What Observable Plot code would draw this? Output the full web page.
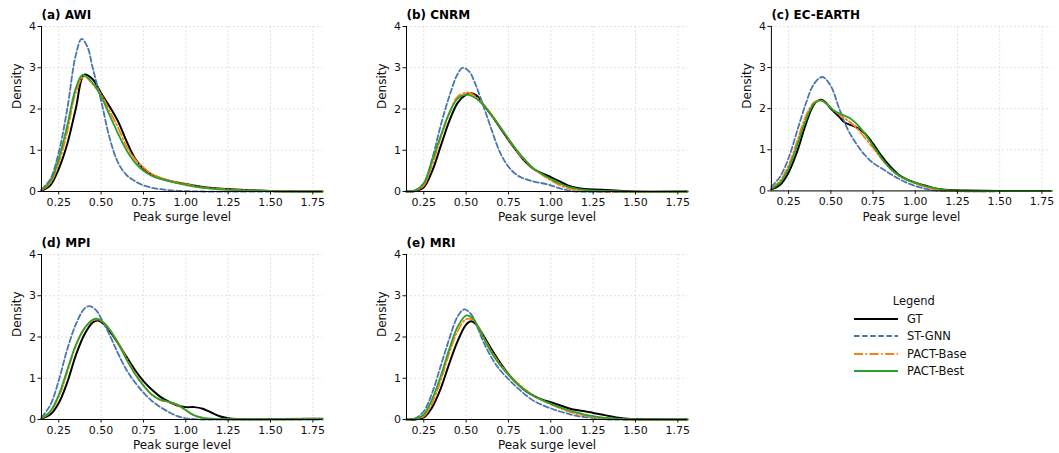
<!DOCTYPE html>
<html><head><meta charset="utf-8">
<script src="https://cdn.jsdelivr.net/npm/d3@7"></script>
<script src="https://cdn.jsdelivr.net/npm/@observablehq/plot@0.6"></script>
<style>
body{margin:0;background:#fff;font-family:"DejaVu Sans",sans-serif;}
#root{position:relative;width:1059px;height:453px;overflow:hidden;}
.panel{position:absolute;}
#legend{position:absolute;left:853px;top:292px;font-size:11.5px;color:#111;}
#legend .ttl{text-align:center;margin-left:8px;height:18px;line-height:18px;}
#legend .row{display:flex;align-items:center;height:17.5px;}
#legend .row span{margin-left:8px;}
</style></head><body><div id="root"></div>
<script>
const xDomain = [0.148, 1.807];
const yDomain = [0, 4];
const xTicks = [0.25, 0.5, 0.75, 1.0, 1.25, 1.5, 1.75];
const yTicks = [0, 1, 2, 3, 4];
const seriesNames = ["GT", "ST-GNN", "PACT-Base", "PACT-Best"];
const seriesColors = ["#000000", "#4a76ad", "#ff7f0e", "#2ca02c"];
const seriesDash = [null, "5.5,2.6", "9,2.5,1.6,2.5", null];
const panelTitles = ["(a) AWI", "(b) CNRM", "(c) EC-EARTH", "(d) MPI", "(e) MRI"];
const xLabel = "Peak surge level";
const yLabel = "Density";

// [x, density] pairs
const awiGT = [[0.148,0.02],[0.2,0.15],[0.25,0.55],[0.3,1.15],[0.35,2.0],[0.4,2.83],[0.45,2.72],[0.5,2.38],[0.55,2.06],[0.6,1.7],[0.65,1.22],[0.7,0.8],[0.75,0.56],[0.8,0.41],[0.9,0.26],[1.0,0.18],[1.1,0.11],[1.25,0.06],[1.4,0.03],[1.5,0.01],[1.807,0]];
const awiST = [[0.148,0.05],[0.2,0.3],[0.25,0.95],[0.3,2.0],[0.35,3.3],[0.385,3.7],[0.42,3.5],[0.45,3.0],[0.5,2.2],[0.55,1.3],[0.6,0.7],[0.65,0.4],[0.7,0.25],[0.75,0.15],[0.8,0.09],[0.9,0.03],[1.0,0.01],[1.1,0],[1.807,0]];
const awiBase = [[0.148,0.03],[0.2,0.2],[0.25,0.7],[0.3,1.45],[0.35,2.4],[0.4,2.8],[0.45,2.6],[0.5,2.35],[0.55,1.95],[0.6,1.55],[0.65,1.1],[0.7,0.78],[0.75,0.58],[0.8,0.42],[0.9,0.27],[1.0,0.18],[1.1,0.1],[1.25,0.05],[1.5,0.01],[1.807,0]];
const awiBest = [[0.148,0.04],[0.2,0.25],[0.25,0.8],[0.3,1.6],[0.35,2.5],[0.39,2.83],[0.45,2.63],[0.5,2.3],[0.55,1.85],[0.6,1.4],[0.65,1.0],[0.7,0.7],[0.75,0.5],[0.8,0.38],[0.9,0.25],[1.0,0.16],[1.1,0.09],[1.25,0.04],[1.5,0.01],[1.807,0]];

const cnrmGT = [[0.148,0],[0.2,0.01],[0.25,0.1],[0.3,0.5],[0.35,1.1],[0.4,1.7],[0.45,2.15],[0.5,2.35],[0.53,2.38],[0.56,2.33],[0.6,2.12],[0.65,1.85],[0.7,1.55],[0.75,1.25],[0.8,0.97],[0.85,0.72],[0.9,0.54],[0.95,0.44],[1.0,0.35],[1.05,0.25],[1.1,0.15],[1.15,0.09],[1.2,0.06],[1.3,0.045],[1.4,0.02],[1.5,0],[1.807,0]];
const cnrmST = [[0.148,0],[0.2,0.03],[0.25,0.2],[0.3,0.8],[0.35,1.6],[0.4,2.3],[0.45,2.85],[0.48,3.0],[0.52,2.9],[0.55,2.65],[0.6,2.1],[0.65,1.5],[0.7,0.95],[0.75,0.6],[0.8,0.4],[0.85,0.3],[0.9,0.24],[0.95,0.2],[1.0,0.15],[1.05,0.08],[1.1,0.03],[1.15,0],[1.807,0]];
const cnrmBase = [[0.148,0],[0.2,0.02],[0.25,0.15],[0.3,0.65],[0.35,1.3],[0.4,1.88],[0.45,2.3],[0.51,2.4],[0.55,2.32],[0.6,2.12],[0.65,1.87],[0.7,1.57],[0.75,1.27],[0.8,0.98],[0.85,0.74],[0.9,0.54],[0.95,0.4],[1.0,0.27],[1.05,0.16],[1.1,0.08],[1.15,0.04],[1.2,0.02],[1.3,0],[1.807,0]];
const cnrmBest = [[0.148,0],[0.2,0.03],[0.25,0.2],[0.3,0.75],[0.35,1.35],[0.4,1.9],[0.45,2.25],[0.5,2.35],[0.55,2.28],[0.6,2.1],[0.65,1.85],[0.7,1.57],[0.75,1.28],[0.8,1.0],[0.85,0.76],[0.9,0.55],[0.95,0.42],[1.0,0.3],[1.05,0.2],[1.1,0.12],[1.15,0.07],[1.2,0.04],[1.3,0.015],[1.4,0],[1.807,0]];

const ecGT = [[0.148,0.03],[0.2,0.15],[0.25,0.45],[0.3,0.95],[0.35,1.6],[0.4,2.1],[0.44,2.22],[0.47,2.15],[0.5,2.0],[0.55,1.8],[0.58,1.67],[0.62,1.6],[0.65,1.55],[0.7,1.4],[0.75,1.15],[0.8,0.85],[0.85,0.6],[0.9,0.4],[0.95,0.28],[1.0,0.2],[1.05,0.14],[1.1,0.08],[1.15,0.04],[1.2,0.02],[1.3,0.01],[1.5,0],[1.807,0]];
const ecST = [[0.148,0.1],[0.2,0.35],[0.25,0.8],[0.3,1.45],[0.35,2.1],[0.4,2.6],[0.45,2.77],[0.5,2.55],[0.55,2.0],[0.6,1.5],[0.65,1.15],[0.7,0.88],[0.75,0.68],[0.8,0.55],[0.85,0.42],[0.9,0.3],[0.95,0.2],[1.0,0.12],[1.05,0.06],[1.1,0.02],[1.15,0],[1.807,0]];
const ecBase = [[0.148,0.06],[0.2,0.25],[0.25,0.62],[0.3,1.2],[0.35,1.8],[0.4,2.15],[0.44,2.2],[0.48,2.1],[0.52,1.95],[0.57,1.8],[0.62,1.65],[0.66,1.5],[0.7,1.3],[0.75,1.05],[0.8,0.78],[0.85,0.55],[0.9,0.38],[0.95,0.27],[1.0,0.18],[1.05,0.11],[1.1,0.05],[1.15,0.02],[1.2,0],[1.807,0]];
const ecBest = [[0.148,0.05],[0.2,0.2],[0.25,0.55],[0.3,1.1],[0.35,1.7],[0.4,2.12],[0.44,2.2],[0.48,2.1],[0.52,1.95],[0.57,1.85],[0.62,1.75],[0.66,1.6],[0.7,1.4],[0.75,1.1],[0.8,0.8],[0.85,0.55],[0.9,0.38],[0.95,0.27],[1.0,0.2],[1.05,0.13],[1.1,0.08],[1.15,0.04],[1.2,0.02],[1.3,0],[1.807,0]];

const mpiGT = [[0.148,0.02],[0.2,0.12],[0.25,0.4],[0.3,0.9],[0.35,1.55],[0.4,2.05],[0.45,2.35],[0.48,2.4],[0.52,2.3],[0.55,2.15],[0.6,1.85],[0.65,1.52],[0.7,1.2],[0.75,0.93],[0.8,0.72],[0.85,0.55],[0.9,0.43],[0.95,0.34],[1.0,0.3],[1.05,0.3],[1.1,0.26],[1.15,0.17],[1.2,0.08],[1.25,0.03],[1.3,0.01],[1.5,0.01],[1.75,0.02],[1.807,0.02]];
const mpiST = [[0.148,0.05],[0.2,0.35],[0.25,0.95],[0.3,1.7],[0.35,2.3],[0.4,2.68],[0.43,2.75],[0.47,2.65],[0.5,2.45],[0.55,2.05],[0.6,1.6],[0.65,1.2],[0.7,0.9],[0.75,0.65],[0.8,0.45],[0.85,0.3],[0.9,0.18],[0.95,0.08],[1.0,0.03],[1.05,0.01],[1.1,0],[1.807,0]];
const mpiBase = [[0.148,0.03],[0.2,0.18],[0.25,0.55],[0.3,1.15],[0.35,1.78],[0.4,2.2],[0.45,2.4],[0.48,2.42],[0.52,2.33],[0.55,2.18],[0.6,1.87],[0.65,1.48],[0.7,1.12],[0.75,0.83],[0.8,0.6],[0.85,0.47],[0.9,0.42],[0.95,0.35],[1.0,0.22],[1.05,0.1],[1.1,0.04],[1.2,0.01],[1.807,0.01]];
const mpiBest = [[0.148,0.03],[0.2,0.2],[0.25,0.6],[0.3,1.2],[0.35,1.8],[0.4,2.2],[0.45,2.42],[0.48,2.44],[0.52,2.33],[0.55,2.18],[0.6,1.85],[0.65,1.45],[0.7,1.1],[0.75,0.82],[0.8,0.6],[0.85,0.48],[0.9,0.43],[0.95,0.36],[1.0,0.23],[1.05,0.1],[1.1,0.04],[1.15,0.02],[1.2,0.01],[1.807,0.01]];

const mriGT = [[0.148,0],[0.2,0.0],[0.25,0.05],[0.3,0.3],[0.35,0.75],[0.4,1.35],[0.45,1.9],[0.5,2.3],[0.53,2.38],[0.56,2.3],[0.6,2.05],[0.65,1.7],[0.7,1.38],[0.75,1.1],[0.8,0.88],[0.85,0.7],[0.9,0.57],[0.95,0.48],[1.0,0.42],[1.05,0.35],[1.1,0.28],[1.15,0.23],[1.2,0.2],[1.25,0.16],[1.3,0.12],[1.35,0.08],[1.4,0.04],[1.45,0.02],[1.5,0.01],[1.807,0]];
const mriST = [[0.148,0],[0.2,0.03],[0.25,0.2],[0.3,0.65],[0.35,1.3],[0.4,1.95],[0.45,2.5],[0.49,2.67],[0.53,2.55],[0.57,2.2],[0.6,1.9],[0.65,1.5],[0.7,1.2],[0.75,0.98],[0.8,0.78],[0.85,0.6],[0.9,0.45],[0.95,0.35],[1.0,0.27],[1.05,0.2],[1.1,0.14],[1.15,0.09],[1.2,0.06],[1.25,0.04],[1.3,0.02],[1.35,0],[1.807,0]];
const mriBase = [[0.148,0],[0.2,0.01],[0.25,0.08],[0.3,0.4],[0.35,0.95],[0.4,1.6],[0.45,2.15],[0.5,2.43],[0.54,2.42],[0.57,2.27],[0.6,2.02],[0.65,1.65],[0.7,1.35],[0.75,1.1],[0.8,0.9],[0.85,0.72],[0.9,0.57],[0.95,0.46],[1.0,0.37],[1.05,0.28],[1.1,0.2],[1.15,0.14],[1.2,0.1],[1.25,0.06],[1.3,0.04],[1.4,0.01],[1.5,0],[1.807,0]];
const mriBest = [[0.148,0],[0.2,0.02],[0.25,0.12],[0.3,0.5],[0.35,1.05],[0.4,1.7],[0.45,2.25],[0.5,2.52],[0.54,2.45],[0.57,2.25],[0.6,2.0],[0.65,1.62],[0.7,1.32],[0.75,1.08],[0.8,0.87],[0.85,0.7],[0.9,0.57],[0.95,0.47],[1.0,0.38],[1.05,0.3],[1.1,0.23],[1.15,0.17],[1.2,0.12],[1.25,0.08],[1.3,0.05],[1.35,0.03],[1.4,0.015],[1.5,0],[1.807,0]];

const panelSeries = [
  [awiGT, awiST, awiBase, awiBest],
  [cnrmGT, cnrmST, cnrmBase, cnrmBest],
  [ecGT, ecST, ecBase, ecBest],
  [mpiGT, mpiST, mpiBase, mpiBest],
  [mriGT, mriST, mriBase, mriBest]
];
const panelPos = [[0,0],[365,0],[730,0],[0,228],[365,228]];

const root = document.getElementById("root");
const font = '"DejaVu Sans", sans-serif';

panelSeries.forEach((series, pi) => {
  const marks = [
    Plot.gridX(xTicks, {stroke: "#d9d9d9", strokeOpacity: 1, strokeDasharray: "2,2", strokeWidth: 0.8}),
    Plot.gridY(yTicks, {stroke: "#d9d9d9", strokeOpacity: 1, strokeDasharray: "2,2", strokeWidth: 0.8}),
  ];
  series.forEach((pts, si) => {
    marks.push(Plot.line(pts, {
      x: d => d[0], y: d => d[1],
      stroke: seriesColors[si], strokeWidth: si === 0 ? 2 : 1.8,
      strokeDasharray: seriesDash[si] || undefined,
      curve: "catmull-rom"
    }));
  });
  marks.push(
    Plot.ruleY([yDomain[0]], {stroke: "#000", strokeWidth: 1}),
    Plot.ruleX([xDomain[0]], {stroke: "#000", strokeWidth: 1}),
    Plot.axisX(xTicks, {tickFormat: d3.format(".2f"), tickSize: 3.5, fontSize: 11, label: null, tickPadding: 3, fill: "#111"}),
    Plot.axisY(yTicks, {tickFormat: d3.format("d"), tickSize: 3.5, fontSize: 11, label: null, tickPadding: 2, fill: "#111"}),
    Plot.text([xLabel], {frameAnchor: "bottom", text: d => d, dy: 26, lineAnchor: "middle", fontSize: 12, fill: "#111"}),
    Plot.text([yLabel], {frameAnchor: "left", text: d => d, dx: -24, rotate: -90, lineAnchor: "middle", fontSize: 12, fill: "#111"}),
    Plot.text([panelTitles[pi]], {frameAnchor: "top-left", text: d => d, dy: -11, lineAnchor: "middle", fontWeight: "bold", fontSize: 12, textAnchor: "start", fill: "#000"})
  );
  const chart = Plot.plot({
    width: 330, height: 226,
    marginLeft: 41, marginRight: 8, marginTop: 26, marginBottom: 35,
    x: {domain: xDomain},
    y: {domain: yDomain},
    style: {fontFamily: font, fontSize: "12px", color: "#111", background: "transparent", overflow: "visible"},
    marks
  });
  const div = document.createElement("div");
  div.className = "panel";
  div.style.left = panelPos[pi][0] + "px";
  div.style.top = panelPos[pi][1] + "px";
  div.appendChild(chart);
  root.appendChild(div);
});

// legend
const leg = document.createElement("div");
leg.id = "legend";
let html = '<div class="ttl">Legend</div>';
seriesNames.forEach((n, i) => {
  const dash = seriesDash[i] ? `stroke-dasharray="${seriesDash[i]}"` : "";
  html += `<div class="row"><svg width="46" height="8"><line x1="1" x2="45" y1="4" y2="4" stroke="${seriesColors[i]}" stroke-width="2" ${dash}/></svg><span>${n}</span></div>`;
});
leg.innerHTML = html;
root.appendChild(leg);
</script></body></html>
